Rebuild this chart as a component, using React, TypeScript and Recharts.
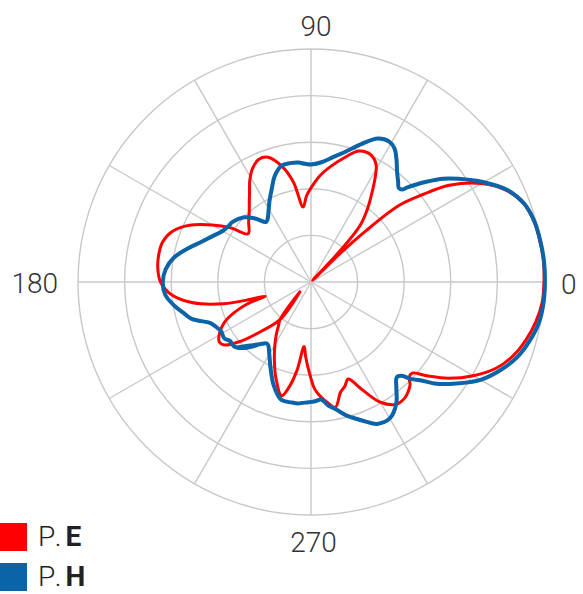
import { RadarChart, Radar, PolarGrid, PolarAngleAxis, PolarRadiusAxis, Legend } from 'recharts';

// 角度（度）と各系列の値（外周 = 50）
const angles = [
  0, 5, 10, 15, 20, 25, 30, 35, 38, 41, 43, 44.5, 45.5, 47, 49, 52, 55, 58, 61, 65,
  70, 75, 80, 85, 90, 93, 96, 100, 104, 109, 113, 117, 121, 125, 127, 131, 136, 142.5, 146, 150,
  155, 160, 165, 170, 175, 180, 185, 190, 194, 196, 197.2, 199, 202, 205, 209, 213, 216, 220, 225, 230.5,
  221.5, 230.5, 234, 236, 240, 245, 250, 255.5, 258, 261, 263.9, 266, 269, 272, 275, 278, 281, 285, 288, 291,
  295, 300, 305, 309, 312, 314, 316, 318, 321, 325, 330, 335, 340, 345, 350, 355,
];

const peValues = [
  50, 50.1, 49.9, 49.6, 48.7, 46.4, 42.3, 36.2, 30.5, 25, 16, 8, 0.5, 9, 16, 19.5, 22.5, 25.8, 28.8, 30.2,
  29.9, 27.6, 25.3, 23, 20.2, 18.5, 16.2, 21.8, 25.5, 28.3, 28.6, 27.5, 25.5, 23, 22, 20.2, 18.6, 17, 20.8, 24.5,
  28.8, 31.7, 33, 33.2, 33, 32.3, 30.2, 25.7, 19.3, 13.5, 10.3, 14.5, 18, 20.5, 22.4, 23.5, 23, 19.8, 14.8, 10.4,
  3.2, 10.4, 12, 13.2, 15.5, 18.6, 22, 25.2, 23.3, 19.2, 13.9, 16.2, 19.5, 23, 24.8, 26.2, 27.4, 24.5, 23.5, 22.3,
  25.2, 29.8, 32, 32, 31.3, 30.6, 29.3, 29.2, 32, 36, 40.2, 43.8, 46.2, 47.8, 49, 49.8,
];

const phValues = [
  50.2, 50.2, 50, 49.7, 48.8, 46.6, 42.8, 38.6, 36, 32.8, 30.6, 29, 27.8, 27.6, 28.5, 30, 32, 33.8, 34.5, 34,
  31.5, 29, 27.2, 25.8, 25.2, 25.4, 25.8, 25.9, 25.8, 24, 21.6, 19.6, 17.7, 16.3, 16.1, 18, 20, 21.2, 21.4, 21.9,
  23.3, 25.1, 27.5, 29.9, 31.3, 31.8, 31.4, 29.7, 28, 27.3, 26.8, 25.5, 23.4, 22.6, 22, 22.2, 21.5, 21.5, 20, 17.3,
  21.2, 17.3, 16.3, 16.4, 17.9, 20.5, 23.5, 26, 26.2, 26.2, 26.2, 26, 25.8, 25.6, 25.3, 26.8, 27.8, 29.7, 30.8, 32,
  33.6, 33.8, 31.9, 29.1, 27.5, 28, 30, 31.5, 34.7, 38, 42, 44.8, 47.1, 48.6, 49.7, 50.1,
];

const spokeAngles = [0, 30, 60, 90, 120, 150, 180, 210, 240, 270, 300, 330];
const labelAngles = [0, 90, 180, 270];
const seriesNames = ['P.E', 'P.H'];
const seriesColors = ['#ff0000', '#0b63a8'];

const data = angles.map((angle, i) => ({ angle, pe: peValues[i], ph: phValues[i] }));

const FONT = "Roboto, 'Helvetica Neue', Arial, sans-serif";

// ラベル位置の微調整（x, y, anchor）
const labelShift: Record<number, [number, number, 'start' | 'middle' | 'end']> = {
  0: [9, 12, 'start'],
  90: [5, -5, 'middle'],
  180: [-12, 11, 'end'],
  270: [2.5, 29, 'middle'],
};

function AngleTick(props: any) {
  const { x, y, payload } = props;
  const v = payload?.value;
  if (!labelAngles.includes(v)) return null;
  const [dx, dy, anchor] = labelShift[v];
  return (
    <text x={x + dx} y={y + dy} textAnchor={anchor} fontFamily={FONT} fontWeight={300} fontSize={28} fill="#333">
      {v}
    </text>
  );
}

// 閉じた centripetal Catmull-Rom（Recharts が計算した点をなめらかにつなぐ）
function smoothClosed(points: { x: number; y: number }[]) {
  const n = points.length;
  if (n < 3) return '';
  const eps = 1e-6;
  let d = `M${points[0].x},${points[0].y}`;
  for (let i = 0; i < n; i++) {
    const p0 = points[(i - 1 + n) % n];
    const p1 = points[i];
    const p2 = points[(i + 1) % n];
    const p3 = points[(i + 2) % n];
    const l01 = Math.sqrt(Math.hypot(p1.x - p0.x, p1.y - p0.y));
    const l12 = Math.sqrt(Math.hypot(p2.x - p1.x, p2.y - p1.y));
    const l23 = Math.sqrt(Math.hypot(p3.x - p2.x, p3.y - p2.y));
    let c1x = p1.x;
    let c1y = p1.y;
    let c2x = p2.x;
    let c2y = p2.y;
    if (l01 > eps && l12 > eps) {
      const a = 2 * l01 * l01 + 3 * l01 * l12 + l12 * l12;
      const m = 3 * l01 * (l01 + l12);
      c1x = (p1.x * a - p0.x * l12 * l12 + p2.x * l01 * l01) / m;
      c1y = (p1.y * a - p0.y * l12 * l12 + p2.y * l01 * l01) / m;
    }
    if (l23 > eps && l12 > eps) {
      const b = 2 * l23 * l23 + 3 * l23 * l12 + l12 * l12;
      const m = 3 * l23 * (l23 + l12);
      c2x = (p2.x * b + p1.x * l23 * l23 - p3.x * l12 * l12) / m;
      c2y = (p2.y * b + p1.y * l23 * l23 - p3.y * l12 * l12) / m;
    }
    d += ` C${c1x},${c1y} ${c2x},${c2y} ${p2.x},${p2.y}`;
  }
  return d + ' Z';
}

function SmoothRadarShape(props: any) {
  const { points, stroke, strokeWidth } = props;
  if (!points || !points.length) return null;
  return (
    <path
      d={smoothClosed(points)}
      fill="none"
      stroke={stroke}
      strokeWidth={strokeWidth}
      strokeLinejoin="round"
      strokeLinecap="round"
    />
  );
}

function LegendBox() {
  return (
    <div style={{ fontFamily: FONT, fontSize: 28, color: '#222' }}>
      {seriesNames.map((name, i) => {
        const [pre, post] = name.split('.');
        return (
          <div key={name} style={{ position: 'relative', height: 40 }}>
            <div style={{ position: 'absolute', left: 0, top: 4, width: 27, height: 28, background: seriesColors[i] }} />
            <div style={{ position: 'absolute', left: 38, top: 4, lineHeight: '28px', whiteSpace: 'nowrap', letterSpacing: 4 }}>
              <span style={{ fontWeight: 300 }}>{pre}.</span>
              <span style={{ fontWeight: 700 }}>{post}</span>
            </div>
          </div>
        );
      })}
    </div>
  );
}

export default function App() {
  return (
    <div style={{ position: 'absolute', left: 0, top: 0, width: 583, height: 594 }}>
      <RadarChart
        width={583}
        height={594}
        data={data}
        cx={311}
        cy={282}
        innerRadius={0}
        outerRadius={233}
        startAngle={0}
        endAngle={360}
        margin={{ top: 0, right: 0, bottom: 0, left: 0 }}
      >
        <PolarGrid gridType="circle" polarAngles={spokeAngles} stroke="#c8c8c8" strokeWidth={1.4} />
        <PolarAngleAxis
          dataKey="angle"
          type="number"
          domain={[0, 360]}
          tickCount={5}
          axisLine={false}
          tickLine={false}
          tickSize={8}
          tick={AngleTick}
        />
        <PolarRadiusAxis domain={[0, 50]} tickCount={6} allowDataOverflow axisLine={false} tick={false} />
        <Radar
          name={seriesNames[0]}
          dataKey="pe"
          stroke={seriesColors[0]}
          strokeWidth={3}
          fill="none"
          fillOpacity={0}
          dot={false}
          shape={SmoothRadarShape}
          isAnimationActive={false}
        />
        <Radar
          name={seriesNames[1]}
          dataKey="ph"
          stroke={seriesColors[1]}
          strokeWidth={4}
          fill="none"
          fillOpacity={0}
          dot={false}
          shape={SmoothRadarShape}
          isAnimationActive={false}
        />
        <Legend
          verticalAlign="bottom"
          content={<LegendBox />}
          wrapperStyle={{ left: 0, top: 519, width: 150, height: 80 }}
        />
      </RadarChart>
    </div>
  );
}
